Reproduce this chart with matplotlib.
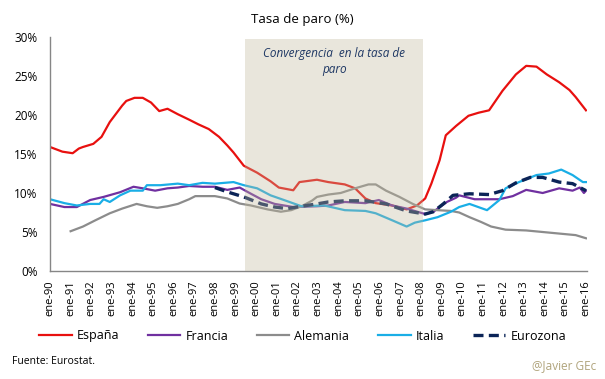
import matplotlib
matplotlib.use("Agg")
import matplotlib.pyplot as plt

plt.rcParams['font.family'] = ['Open Sans', 'DejaVu Sans']

# series (decimal year, % unemployment)
spain_x = [1990.0, 1990.3, 1990.6, 1991.1, 1991.4, 1991.6, 1992.1, 1992.5, 1992.9, 1993.5, 1993.7,
           1994.1, 1994.5, 1994.9, 1995.3, 1995.7, 1996.2, 1996.75, 1997.2, 1997.7, 1998.2, 1998.6,
           1998.9, 1999.4, 2000.05, 2000.7, 2001.1, 2001.8, 2002.1, 2002.95, 2003.5, 2004.3, 2004.8,
           2005.3, 2005.8, 2006.6, 2007.3, 2007.8, 2008.2, 2008.5, 2008.9, 2009.2, 2009.7, 2010.3,
           2010.8, 2011.3, 2011.95, 2012.6, 2013.1, 2013.6, 2014.1, 2014.7, 2015.2, 2015.5, 2016.0]
spain_y = [15.9, 15.6, 15.3, 15.1, 15.7, 15.9, 16.3, 17.2, 19.1, 21.2, 21.8,
           22.2, 22.2, 21.6, 20.5, 20.8, 20.1, 19.4, 18.8, 18.2, 17.2, 16.1,
           15.2, 13.5, 12.6, 11.5, 10.7, 10.35, 11.4, 11.7, 11.4, 11.1, 10.6,
           9.3, 8.7, 8.4, 7.9, 8.4, 9.3, 11.2, 14.2, 17.4, 18.6, 19.9,
           20.3, 20.6, 23.1, 25.2, 26.3, 26.2, 25.2, 24.2, 23.2, 22.3, 20.6]

france_x = [1990.0, 1990.7, 1991.3, 1991.95, 1992.6, 1993.4, 1994.05, 1994.5, 1995.1, 1995.7, 1996.2,
            1996.75, 1997.4, 1998.0, 1998.6, 1999.2, 1999.75, 2000.25, 2000.9, 2001.8, 2002.95, 2003.5,
            2004.3, 2005.3, 2005.95, 2006.6, 2007.3, 2008.2, 2008.6, 2009.25, 2009.7, 2009.85, 2010.6,
            2011.8, 2012.45, 2013.1, 2013.9, 2014.7, 2015.35, 2015.7, 2015.9, 2016.0]
france_y = [8.6, 8.2, 8.2, 9.1, 9.5, 10.1, 10.8, 10.6, 10.3, 10.6, 10.7,
            10.9, 10.8, 10.8, 10.4, 10.7, 9.9, 9.2, 8.6, 8.2, 8.3, 8.4,
            8.85, 8.7, 9.1, 8.4, 8.0, 7.3, 7.6, 8.85, 9.4, 9.7, 9.2,
            9.2, 9.6, 10.4, 10.0, 10.6, 10.3, 10.7, 10.0, 10.3]

germany_x = [1991.0, 1991.6, 1992.2, 1992.9, 1993.5, 1994.2, 1994.7, 1995.2, 1995.7, 1996.2, 1996.75,
             1997.05, 1998.0, 1998.6, 1999.2, 1999.75, 2000.55, 2001.2, 2001.7, 2002.2, 2002.7, 2002.95,
             2003.5, 2004.1, 2004.8, 2005.45, 2005.8, 2006.3, 2006.95, 2007.6, 2008.2, 2008.8, 2009.45,
             2009.85, 2010.35, 2010.9, 2011.4, 2012.1, 2013.1, 2013.9, 2014.7, 2015.5, 2016.0]
germany_y = [5.1, 5.7, 6.5, 7.4, 8.0, 8.6, 8.3, 8.1, 8.3, 8.6, 9.2,
             9.6, 9.6, 9.3, 8.65, 8.4, 7.9, 7.6, 7.8, 8.3, 9.0, 9.5,
             9.8, 10.0, 10.6, 11.1, 11.1, 10.3, 9.5, 8.6, 7.9, 7.8, 7.7,
             7.5, 6.9, 6.3, 5.7, 5.3, 5.2, 5.0, 4.8, 4.6, 4.2]

italy_x = [1990.0, 1990.7, 1991.3, 1991.95, 1992.4, 1992.6, 1992.9, 1993.4, 1993.9, 1994.5, 1994.7,
           1995.35, 1996.2, 1996.75, 1997.4, 1998.0, 1998.9, 1999.4, 2000.05, 2000.7, 2001.35, 2002.2,
           2003.3, 2004.3, 2005.3, 2005.8, 2006.6, 2007.3, 2007.7, 2008.2, 2008.8, 2009.45, 2009.85,
           2010.35, 2011.2, 2011.8, 2012.1, 2012.75, 2013.6, 2014.2, 2014.8, 2015.35, 2015.85, 2016.0]
italy_y = [9.2, 8.7, 8.4, 8.6, 8.6, 9.2, 8.85, 9.7, 10.3, 10.3, 11.0,
           11.0, 11.2, 11.0, 11.3, 11.2, 11.4, 11.0, 10.6, 9.7, 9.1, 8.3,
           8.4, 7.8, 7.7, 7.4, 6.5, 5.7, 6.2, 6.5, 6.9, 7.6, 8.2,
           8.6, 7.8, 9.1, 10.6, 11.4, 12.3, 12.5, 13.0, 12.3, 11.4, 11.4]

euro_x = [1998.0, 1998.65, 1999.4, 2000.25, 2000.9, 2001.5, 2002.2, 2002.95, 2003.5, 2004.3, 2005.3,
          2006.3, 2007.3, 2008.2, 2008.6, 2009.1, 2009.55, 2010.35, 2011.3, 2011.95, 2012.6, 2013.3,
          2013.9, 2014.7, 2015.35, 2016.0]
euro_y = [10.7, 10.1, 9.5, 8.6, 8.2, 8.0, 8.3, 8.6, 8.85, 9.0, 9.0,
          8.6, 7.7, 7.3, 7.6, 8.65, 9.7, 9.9, 9.8, 10.3, 11.3, 12.0,
          12.0, 11.4, 11.2, 10.3]

tick_years = list(range(1990, 2017))
tick_labels = ["ene-%02d" % (y % 100) for y in tick_years]
y_ticks = [0, 5, 10, 15, 20, 25, 30]

fig = plt.figure(figsize=(6.05, 3.79), dpi=100)
ax = fig.add_axes([50 / 605, 108 / 379, 537 / 605, 234 / 379])

ax.plot(spain_x, spain_y, color='#e8100f', lw=1.6, label='España')
ax.plot(france_x, france_y, color='#7030a0', lw=1.6, label='Francia')
ax.plot(germany_x, germany_y, color='#8c8c8c', lw=1.6, label='Alemania')
ax.plot(italy_x, italy_y, color='#1aaee6', lw=1.6, label='Italia')
ax.plot(euro_x, euro_y, color='#0b2457', lw=2.4, ls=(0, (3, 1.6)), label='Eurozona')

# convergence band, drawn over the lines like in the original
ax.axvspan(1999.45, 2008.1, ymin=0, ymax=0.99, color='#c0b89b', alpha=0.35, lw=0, zorder=5)
ax.text(2003.8, 26.8, "Convergencia  en la tasa de\nparo", ha='center', va='center',
        style='italic', fontsize=8.5, color='#1f3864', linespacing=1.3, zorder=6)

ax.set_xlim(1990, 2016.05)
ax.set_ylim(0, 30)
ax.set_xticks(tick_years)
ax.set_xticklabels(tick_labels, rotation=90, fontsize=8)
ax.set_yticks(y_ticks)
ax.set_yticklabels(["%d%%" % v for v in y_ticks], fontsize=8.5)
ax.tick_params(length=0)
ax.tick_params(axis='y', pad=9)
ax.tick_params(axis='x', pad=7)
for s in ['top', 'right']:
    ax.spines[s].set_visible(False)
for s in ['left', 'bottom']:
    ax.spines[s].set_color('#868686')
    ax.spines[s].set_linewidth(1)

fig.text(0.5, 1 - 20 / 379, "Tasa de paro (%)", ha='center', va='center', fontsize=9.5)

handles, labels = ax.get_legend_handles_labels()
fig.legend(handles, labels, loc='center', bbox_to_anchor=(0.5, 1 - 336 / 379), ncol=5,
           frameon=False, fontsize=9, handlelength=2.6, columnspacing=2.3, handletextpad=0.4)

fig.text(12 / 605, 1 - 361 / 379, "Fuente: Eurostat.", ha='left', va='center', fontsize=7.5)
fig.text(596 / 605, 1 - 366 / 379, "@Javier GEc", ha='right', va='center', fontsize=8.5, color='#b0a47c')

fig.savefig("out.png", dpi=100)
